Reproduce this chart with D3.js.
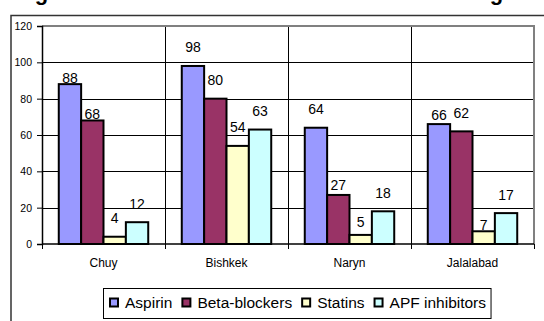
<!DOCTYPE html>
<html>
<head>
<meta charset="utf-8">
<script src="https://cdn.jsdelivr.net/npm/d3@7"></script>
<style>
  html, body { margin: 0; padding: 0; background: #fff; overflow: hidden; }
  svg { display: block; font-family: "Liberation Sans", Arial, sans-serif; }
</style>
</head>
<body>
<div id="chart"></div>
<script>
// data
const regions = ["Chuy", "Bishkek", "Naryn", "Jalalabad"];
const series = ["Aspirin", "Beta-blockers", "Statins", "APF inhibitors"];
const aspirin = [88, 98, 64, 66];
const betaBlockers = [68, 80, 27, 62];
const statins = [4, 54, 5, 7];
const apfInhibitors = [12, 63, 18, 17];
const yTicks = [0, 20, 40, 60, 80, 100, 120];
const colors = ["#9999ff", "#993366", "#ffffcc", "#ccffff"];

// labels that were dragged down a bit in the original
const labelNudge = { "Chuy|Aspirin": 12, "Chuy|Beta-blockers": 12.5, "Naryn|Beta-blockers": 9,
  "Naryn|Statins": 6, "Jalalabad|Aspirin": 9, "Jalalabad|Statins": 12 };

const width = 544, height = 321;
const plot = { left: 42, right: 534, top: 26, bottom: 244 };

const values = [aspirin, betaBlockers, statins, apfInhibitors];
const rows = [];
regions.forEach((r, i) => {
  series.forEach((s, j) => rows.push({ region: r, series: s, value: values[j][i] }));
});

const svg = d3.select("#chart").append("svg")
  .attr("width", width)
  .attr("height", height);

// title, cut off at the top of the picture (only descenders show)
svg.append("text")
  .attr("x", 7)
  .attr("y", 0)
  .attr("font-size", "22px")
  .attr("font-weight", "bold")
  .attr("textLength", 505)
  .attr("lengthAdjust", "spacing")
  .text("Drug treatment rates in the four studied oblasts at the admission stage");

// outer chart frame
svg.append("path")
  .attr("d", `M11,${height + 2}V15.5H${width + 2}`)
  .attr("fill", "none")
  .attr("stroke", "#333")
  .attr("stroke-width", 1.5);

const x = d3.scaleBand().domain(regions).range([plot.left, plot.right]);
const xs = d3.scaleBand().domain(series).range([0, x.bandwidth()]).paddingInner(0).paddingOuter(0.75);
const y = d3.scaleLinear().domain([0, 120]).range([plot.bottom, plot.top]);
const color = d3.scaleOrdinal().domain(series).range(colors);

// horizontal grid
svg.append("g")
  .selectAll("line")
  .data(yTicks.filter(d => d > 0 && d < 120))
  .enter().append("line")
  .attr("x1", plot.left).attr("x2", plot.right)
  .attr("y1", d => Math.round(y(d)) + 0.5).attr("y2", d => Math.round(y(d)) + 0.5)
  .attr("stroke", "#000");

// vertical grid between regions
svg.append("g")
  .selectAll("line")
  .data(regions.slice(1))
  .enter().append("line")
  .attr("x1", d => Math.round(x(d)) + 0.5).attr("x2", d => Math.round(x(d)) + 0.5)
  .attr("y1", plot.top).attr("y2", plot.bottom)
  .attr("stroke", "#000");

// plot area border (top and right are grey)
svg.append("path")
  .attr("d", `M${plot.left},${plot.top}H${plot.right}V${plot.bottom}`)
  .attr("fill", "none")
  .attr("stroke", "#808080")
  .attr("stroke-width", 2);

// bars
svg.append("g")
  .selectAll("rect")
  .data(rows)
  .enter().append("rect")
  .attr("x", d => x(d.region) + xs(d.series))
  .attr("y", d => y(d.value))
  .attr("width", xs.bandwidth())
  .attr("height", d => y(0) - y(d.value))
  .attr("fill", d => color(d.series))
  .attr("stroke", "#000")
  .attr("stroke-width", 2);

// value labels
svg.append("g")
  .selectAll("text")
  .data(rows)
  .enter().append("text")
  .attr("x", d => x(d.region) + xs(d.series) + xs.bandwidth() / 2)
  .attr("y", d => y(d.value) - 13.5 + (labelNudge[d.region + "|" + d.series] || 0))
  .attr("text-anchor", "middle")
  .attr("font-size", "14px")
  .attr("fill", "#000")
  .text(d => d.value);

// y axis
const yAxis = svg.append("g")
  .attr("transform", `translate(${plot.left},0)`)
  .call(d3.axisLeft(y).tickValues(yTicks).tickSize(5).tickPadding(5));
yAxis.select(".domain").attr("stroke", "#000").attr("stroke-width", 1.5);
yAxis.selectAll(".tick line").attr("stroke", "#000");
yAxis.selectAll(".tick text")
  .attr("font-size", "10.5px")
  .attr("font-family", "Liberation Sans, Arial, sans-serif")
  .attr("fill", "#000");

// x axis: ticks sit on the region boundaries
const xAxis = svg.append("g")
  .attr("transform", `translate(0,${plot.bottom})`);
xAxis.append("line")
  .attr("x1", plot.left).attr("x2", plot.right)
  .attr("stroke", "#000").attr("stroke-width", 1.5);
xAxis.selectAll(".tk")
  .data(regions.concat(["end"]))
  .enter().append("line")
  .attr("class", "tk")
  .attr("x1", (d, i) => Math.round(plot.left + i * x.step()) + 0.5)
  .attr("x2", (d, i) => Math.round(plot.left + i * x.step()) + 0.5)
  .attr("y1", 0).attr("y2", 5)
  .attr("stroke", "#000");
xAxis.selectAll(".lbl")
  .data(regions)
  .enter().append("text")
  .attr("class", "lbl")
  .attr("x", d => x(d) + x.bandwidth() / 2)
  .attr("y", 23)
  .attr("text-anchor", "middle")
  .attr("font-size", "12px")
  .attr("fill", "#000")
  .text(d => d);

// legend
const legend = svg.append("g");
const legendBox = legend.append("rect")
  .attr("fill", "#fff")
  .attr("stroke", "#000")
  .attr("stroke-width", 1);
let lx = 110;
series.forEach((s, i) => {
  legend.append("rect")
    .attr("x", lx).attr("y", 298.5)
    .attr("width", 8).attr("height", 8)
    .attr("fill", color(s))
    .attr("stroke", "#000")
    .attr("stroke-width", 2);
  const t = legend.append("text")
    .attr("x", lx + 15)
    .attr("y", 308)
    .attr("font-size", "15.5px")
    .attr("fill", "#000")
    .text(s);
  lx += 15 + t.node().getComputedTextLength() + 10;
});
legendBox.attr("x", 103.5).attr("y", 288.5)
  .attr("width", lx - 10 + 5 - 103.5).attr("height", 30);
</script>
</body>
</html>
